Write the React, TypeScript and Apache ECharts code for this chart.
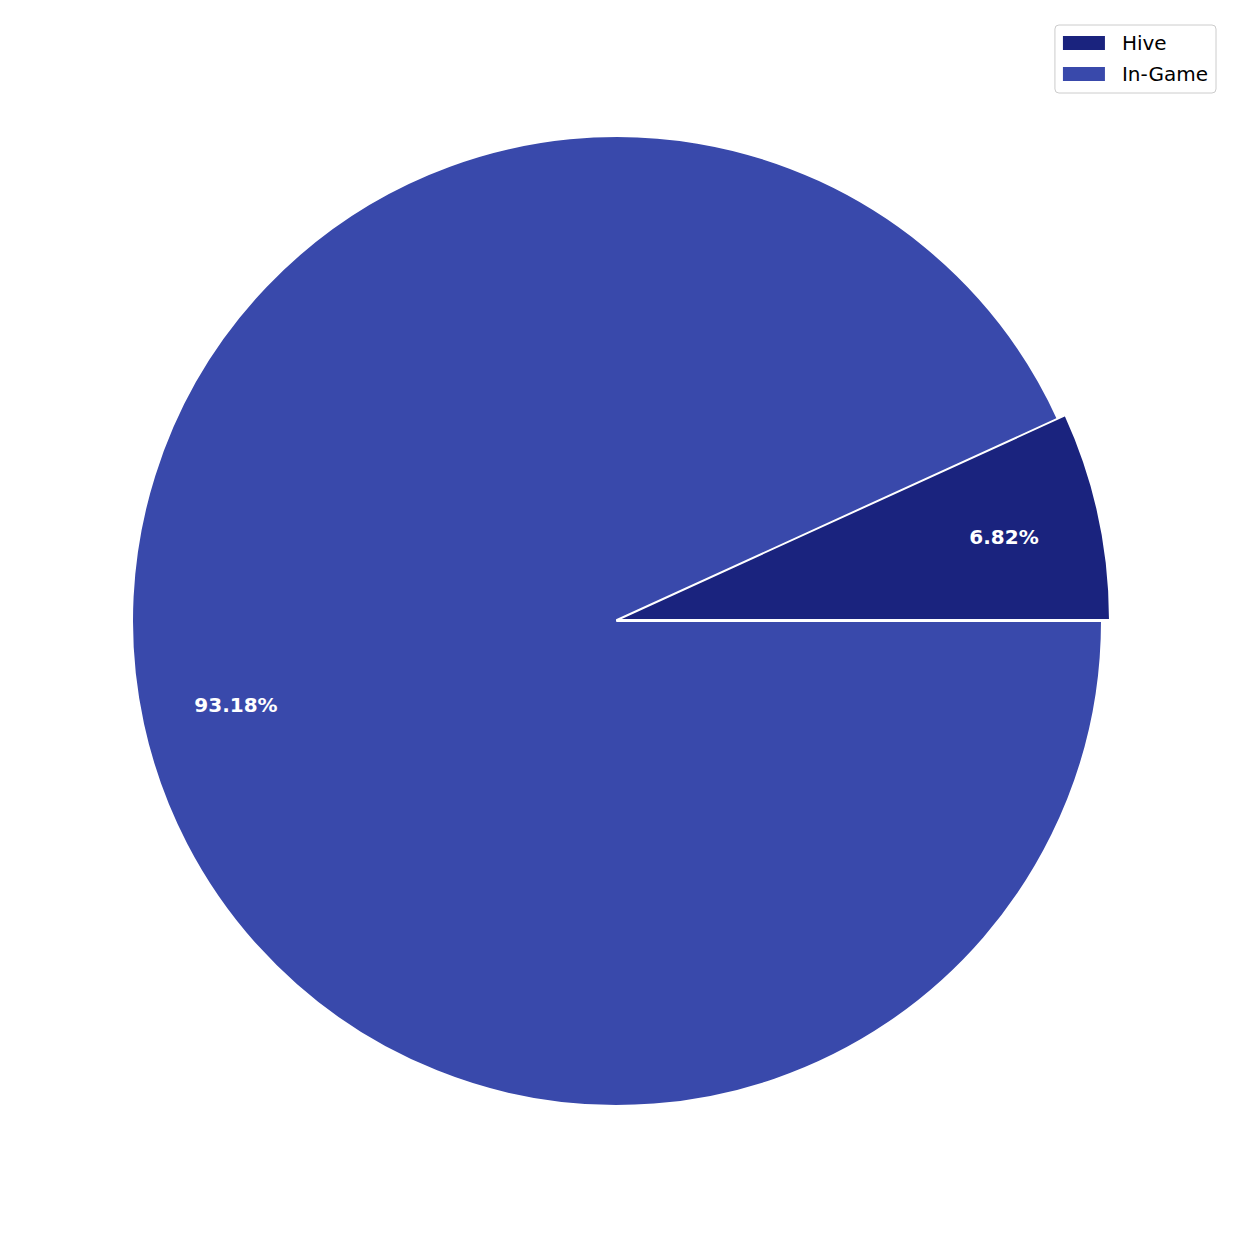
import React, { useEffect, useRef } from "react";
import * as echarts from "echarts";

const categories = ["Hive", "In-Game"];
const values = [6.82, 93.18];
const colors = ["#1a237e", "#3949ab"];

export default function App() {
  const ref = useRef<HTMLDivElement>(null);
  useEffect(() => {
    if (!ref.current) return;
    const chart = echarts.init(ref.current, null, { renderer: "svg" });
    const font = "DejaVu Sans";
    const hidden = { color: "rgba(0,0,0,0)", borderWidth: 0 };
    const mkData = (showIdx: number | null) =>
      categories.map((name, i) => ({
        name,
        value: values[i],
        itemStyle:
          showIdx === null
            ? hidden
            : i === showIdx
            ? { color: colors[i], borderColor: "#ffffff", borderWidth: 2 }
            : hidden,
      }));
    const base = {
      type: "pie" as const,
      startAngle: 0,
      clockwise: false,
      avoidLabelOverlap: false,
      silent: true,
      labelLine: { show: false },
      emphasis: { disabled: true },
    };
    chart.setOption({
      animation: false,
      backgroundColor: "#ffffff",
      legend: {
        orient: "vertical",
        right: 26,
        top: 25,
        padding: [8, 8, 9, 8],
        itemWidth: 42,
        itemHeight: 14,
        itemGap: 11,
        borderColor: "#cccccc",
        borderWidth: 1,
        borderRadius: 4,
        backgroundColor: "rgba(255,255,255,0.8)",
        icon: "rect",
        selectedMode: false,
        textStyle: { fontFamily: font, fontSize: 20, color: "#000000", padding: [0, 0, 0, 12] },
        data: categories.map((name, i) => ({
          name,
          itemStyle: { color: colors[i], borderWidth: 0 },
        })),
      },
      series: [
        {
          ...base,
          name: "ingame",
          center: [617, 621],
          radius: [0, 485],
          label: { show: false },
          data: mkData(1),
        },
        {
          ...base,
          name: "hive",
          center: [617, 620],
          radius: [0, 493],
          label: { show: false },
          data: mkData(0),
        },
        {
          ...base,
          name: "labels",
          center: [620, 621],
          radius: [294, 486],
          label: {
            show: true,
            position: "inside",
            fontFamily: font,
            fontSize: 20,
            fontWeight: "bold",
            color: "#ffffff",
            formatter: (p: any) => p.value.toFixed(2) + "%",
          },
          data: mkData(null),
        },
      ],
    });
    return () => chart.dispose();
  }, []);
  return (
    <div
      ref={ref}
      style={{ position: "absolute", left: 0, top: 0, width: 1242, height: 1242 }}
    />
  );
}
